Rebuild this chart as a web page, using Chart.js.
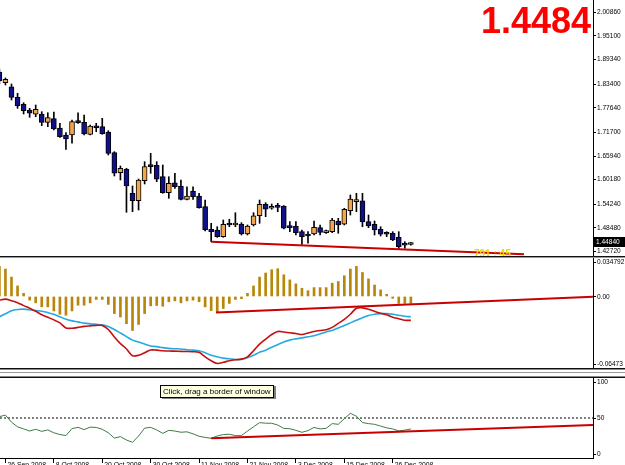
<!DOCTYPE html>
<html><head><meta charset="utf-8">
<script src="https://cdn.jsdelivr.net/npm/chart.js@4.4.1/dist/chart.umd.min.js"></script>
<style>
html,body{margin:0;padding:0;background:#fff;overflow:hidden;}
#wrap{position:relative;width:625px;height:465px;overflow:hidden;background:#fff;}
.pane{position:absolute;left:0;width:625px;}
.sep{position:absolute;left:0;width:625px;height:1px;}
canvas{display:block;}
</style></head><body>
<div id="wrap">
  <div class="pane" style="top:0;height:256px"><canvas id="cMain" width="625" height="256"></canvas></div>
  <div class="sep" style="top:256px;background:#111"></div>
  <div class="sep" style="top:257px;background:#999"></div>
  <div class="pane" style="top:258px;height:110px"><canvas id="cMacd" width="625" height="110"></canvas></div>
  <div class="sep" style="top:368px;background:#111"></div>
  <div class="sep" style="top:369px;background:#888"></div>
  <div class="sep" style="top:372px;background:#999"></div>
  <div class="sep" style="top:376px;background:#888"></div>
  <div class="sep" style="top:377px;background:#111"></div>
  <div class="pane" style="top:378px;height:87px"><canvas id="cRsi" width="625" height="87"></canvas></div>
</div>
<script>
// ---------------- DATA ----------------
const tickBars = [1, 9, 17, 25, 33, 41, 49, 57, 65];
const tickText = ['26 Sep 2008','8 Oct 2008','20 Oct 2008','30 Oct 2008','11 Nov 2008','21 Nov 2008','3 Dec 2008','15 Dec 2008','26 Dec 2008'];

const opens  = [1.8622,1.8363,1.8265,1.8008,1.7838,1.7700,1.7596,1.7603,1.7401,1.7489,
                1.7263,1.7093,1.7093,1.7416,1.7401,1.7110,1.7312,1.7295,1.7159,1.6664,
                1.6178,1.6261,1.5678,1.5498,1.5984,1.6358,1.6358,1.6081,1.5693,1.5935,
                1.5855,1.5532,1.5734,1.5613,1.5353,1.4804,1.4787,1.4625,1.4933,1.4909,
                1.4933,1.4690,1.4909,1.5134,1.5411,1.5314,1.5363,1.5370,1.4867,1.4884,
                1.4746,1.4666,1.4690,1.4843,1.4722,1.4746,1.5006,1.4926,1.5256,1.5474,
                1.5498,1.4989,1.4926,1.4804,1.4707,1.4707,1.4610,1.4423,1.4435];
const highs  = [1.8695,1.8477,1.8331,1.8105,1.7877,1.7741,1.7821,1.7659,1.7634,1.7651,
                1.7377,1.7149,1.7457,1.7634,1.7579,1.7336,1.7377,1.7498,1.7198,1.6688,
                1.6341,1.6285,1.5855,1.6025,1.6445,1.6649,1.6445,1.6365,1.6081,1.6164,
                1.6001,1.5838,1.5838,1.5678,1.5515,1.4950,1.4867,1.5030,1.5047,1.5207,
                1.4965,1.4909,1.5207,1.5515,1.5450,1.5418,1.5435,1.5380,1.4989,1.4989,
                1.4787,1.4746,1.5006,1.4909,1.4787,1.5071,1.5071,1.5314,1.5637,1.5678,
                1.5678,1.5151,1.5006,1.4867,1.4746,1.4746,1.4746,1.4503,1.4490];
const lows   = [1.8331,1.8307,1.7943,1.7741,1.7603,1.7523,1.7537,1.7319,1.7295,1.7215,
                1.7037,1.6746,1.6892,1.7377,1.7093,1.7093,1.7173,1.7110,1.6608,1.6098,
                1.6001,1.5217,1.5231,1.5273,1.5904,1.6164,1.5960,1.5678,1.5557,1.5799,
                1.5515,1.5515,1.5532,1.5314,1.4763,1.4503,1.4610,1.4610,1.4867,1.4867,
                1.4666,1.4666,1.4884,1.4950,1.5110,1.5290,1.5231,1.4812,1.4746,1.4666,
                1.4440,1.4465,1.4666,1.4666,1.4707,1.4722,1.4707,1.4909,1.5151,1.5231,
                1.4867,1.4843,1.4666,1.4642,1.4625,1.4528,1.4319,1.4343,1.4420];
const closes = [1.8404,1.8445,1.8008,1.7804,1.7683,1.7620,1.7717,1.7401,1.7513,1.7239,
                1.7052,1.6996,1.7416,1.7392,1.7117,1.7312,1.7270,1.7125,1.6649,1.6164,
                1.6285,1.5855,1.5498,1.6001,1.6324,1.6324,1.6018,1.5693,1.5921,1.5838,
                1.5532,1.5613,1.5596,1.5329,1.4787,1.4746,1.4625,1.4926,1.4909,1.4921,
                1.4690,1.4884,1.5134,1.5411,1.5290,1.5353,1.5338,1.4829,1.4843,1.4722,
                1.4625,1.4642,1.4853,1.4731,1.4770,1.5030,1.4909,1.5290,1.5540,1.5515,
                1.4989,1.4884,1.4787,1.4683,1.4683,1.4545,1.4382,1.4420,1.4484];

const macdHist = [0.0272,0.0248,0.0175,0.0095,0.0028,-0.0033,-0.0058,-0.0094,-0.0094,-0.0131,
                  -0.0161,-0.0170,-0.0131,-0.0079,-0.0079,-0.0058,-0.0027,-0.0027,-0.0072,-0.0155,
                  -0.0186,-0.0247,-0.0308,-0.0253,-0.0155,-0.0085,-0.0082,-0.0088,-0.0048,-0.0040,
                  -0.0058,-0.0040,-0.0033,-0.0048,-0.0094,-0.0128,-0.0140,-0.0109,-0.0063,-0.0027,
                  -0.0020,0.0028,0.0095,0.0175,0.0212,0.0242,0.0251,0.0196,0.0150,0.0114,
                  0.0074,0.0052,0.0080,0.0080,0.0080,0.0120,0.0135,0.0187,0.0248,0.0272,
                  0.0217,0.0159,0.0104,0.0059,0.0019,-0.0017,-0.0063,-0.0063,-0.0063];
const macdRed  = [-0.0033,-0.0024,-0.0038,-0.0056,-0.0083,-0.0106,-0.0134,-0.0166,-0.0189,-0.0212,
                  -0.0239,-0.0285,-0.0287,-0.0280,-0.0271,-0.0266,-0.0262,-0.0262,-0.0299,-0.0367,
                  -0.0427,-0.0475,-0.0537,-0.0532,-0.0509,-0.0484,-0.0486,-0.0491,-0.0494,-0.0495,
                  -0.0497,-0.0498,-0.0500,-0.0505,-0.0546,-0.0582,-0.0607,-0.0596,-0.0582,-0.0573,
                  -0.0567,-0.0546,-0.0491,-0.0431,-0.0386,-0.0344,-0.0317,-0.0321,-0.0329,-0.0335,
                  -0.0344,-0.0331,-0.0317,-0.0308,-0.0301,-0.0280,-0.0244,-0.0207,-0.0161,-0.0106,
                  -0.0103,-0.0115,-0.0134,-0.0152,-0.0166,-0.0189,-0.0202,-0.0216,-0.0216];
const macdBlue = [-0.0184,-0.0157,-0.0129,-0.0118,-0.0115,-0.0120,-0.0127,-0.0134,-0.0146,-0.0161,
                  -0.0184,-0.0207,-0.0221,-0.0230,-0.0241,-0.0248,-0.0253,-0.0257,-0.0271,-0.0299,
                  -0.0331,-0.0363,-0.0395,-0.0413,-0.0431,-0.0448,-0.0454,-0.0463,-0.0470,-0.0473,
                  -0.0475,-0.0482,-0.0486,-0.0491,-0.0509,-0.0532,-0.0546,-0.0558,-0.0564,-0.0570,
                  -0.0569,-0.0555,-0.0532,-0.0505,-0.0486,-0.0459,-0.0436,-0.0413,-0.0395,-0.0384,
                  -0.0375,-0.0365,-0.0356,-0.0340,-0.0321,-0.0308,-0.0285,-0.0262,-0.0239,-0.0216,
                  -0.0193,-0.0173,-0.0161,-0.0155,-0.0155,-0.0161,-0.0170,-0.0179,-0.0184];
const rsi = [51.7,53.6,44.8,39.0,36.4,33.7,35.9,33.3,35.1,31.5,
             29.3,28.0,36.8,38.3,35.5,38.6,38.2,35.9,31.5,24.9,
             26.7,22.5,19.6,27.5,37.3,38.3,35.1,30.8,34.6,33.7,
             32.2,32.7,30.2,27.1,25.8,24.6,27.5,29.3,29.7,28.0,
             28.0,33.7,39.0,44.2,43.5,43.4,41.2,37.0,36.6,34.6,
             32.1,34.2,38.2,36.4,37.1,43.0,42.1,49.2,55.8,52.3,
             44.3,43.0,42.1,39.9,37.7,36.3,33.9,34.8,36.3];

const priceTicks = [2.00860,1.95100,1.89340,1.83400,1.77640,1.71700,1.65940,1.60180,1.54240,1.48480,1.42720];
const macdTicks = [0.034792, 0, -0.06473];
const macdTickText = ['0.034792','0.00','-0.06473'];
const rsiTicks = [100, 50, 0];
const rsiLevel = [50];

const priceTrendX = [35, 86.7],  priceTrendY = [1.4503, 1.4198];
const macdTrendX  = [35.8, 98.1], macdTrendY  = [-0.0146, -0.0003];
const rsiTrendX   = [35, 98.1],   rsiTrendY   = [24.6, 41.3];
const timerText = '791 : 45';

// ---------------- SETUP ----------------
const X_MIN = 0.1, X_MAX = 98.1;
const PRICE_MIN = 1.4156, PRICE_MAX = 2.0370;
const AX_FONT = "'Liberation Sans',Arial,sans-serif";
const SQ = 0.82; // horizontal condensing of axis text
const BULL = '#f2a54a', BEAR = '#10108a', RED = '#c80000';
Chart.defaults.animation = false;
Chart.defaults.font.family = AX_FONT;
Chart.defaults.font.size = 8;
Chart.defaults.color = '#000';

const idx = closes.map((_, i) => i);
const pts = (xs, ys) => xs.map((x, i) => ({x, y: ys[i]}));

function condText(ctx, txt, x, y, sx){
  ctx.save(); ctx.translate(x, y); ctx.scale(sx, 1); ctx.fillText(txt, 0, 0); ctx.restore();
}
function fixY(s){ s.width = 32; s.paddingTop = 0; s.paddingBottom = 0; }
const baseX = {type:'linear', min:X_MIN, max:X_MAX, display:false, offset:false};
const basePlugins = {legend:{display:false}, tooltip:{enabled:false}};
const yHidden = {ticks:{display:false}, grid:{drawOnChartArea:false, drawTicks:false},
                 border:{display:true, color:'#000', width:1}, afterFit:fixY};

// right-hand axis labels, MT4 style (edge labels kept inside the pane)
const sideAxis = {
  id:'sideAxis',
  afterDraw(chart, args, opts){
    const s = chart.scales.y, ctx = chart.ctx, a = chart.chartArea;
    ctx.save();
    ctx.font = '8px ' + AX_FONT; ctx.fillStyle = '#000'; ctx.strokeStyle = '#000'; ctx.lineWidth = 1;
    ctx.textAlign = 'left'; ctx.textBaseline = 'middle';
    s.ticks.forEach((t, i) => {
      let y = s.getPixelForValue(t.value);
      y = Math.min(Math.max(y, a.top + 4), a.bottom - 4);
      const yy = Math.round(y) + 0.5;
      ctx.beginPath(); ctx.moveTo(a.right, yy); ctx.lineTo(a.right + 3, yy); ctx.stroke();
      condText(ctx, opts.labels(t.value, i), a.right + 4, y, SQ);
    });
    ctx.restore();
  }
};

// ---------------- MAIN ----------------
const mainDeco = {
  id:'mainDeco',
  afterDraw(chart){
    const {ctx, chartArea:a, scales:{y}} = chart;
    const last = closes[closes.length - 1];
    const yy = Math.round(y.getPixelForValue(last));
    ctx.save();
    ctx.fillStyle = '#f2d600'; ctx.font = "bold 10px 'Liberation Sans',Arial,sans-serif";
    ctx.textAlign = 'left'; ctx.textBaseline = 'middle';
    ctx.fillText(timerText, 474, a.bottom - 2);
    ctx.fillStyle = '#000'; ctx.fillRect(a.right + 1, yy - 5, 32, 10);
    ctx.fillStyle = '#fff'; ctx.font = '8px ' + AX_FONT;
    condText(ctx, last.toFixed(5), a.right + 3, yy, SQ);
    ctx.fillStyle = '#ff0000'; ctx.font = "bold 36px 'Liberation Sans',Arial,sans-serif";
    ctx.textAlign = 'right'; ctx.textBaseline = 'alphabetic';
    ctx.fillText(last.toFixed(4), 591, 33);
    ctx.restore();
  }
};

new Chart(document.getElementById('cMain'), {
  type:'bar',
  data:{datasets:[
    {type:'line', data:pts(priceTrendX, priceTrendY), borderColor:RED, borderWidth:2, pointRadius:0, order:0},
    {data:idx.map(i => ({x:i, y:[opens[i], closes[i]]})),
     backgroundColor:idx.map(i => closes[i] >= opens[i] ? BULL : BEAR),
     borderColor:'#000', borderWidth:1, borderSkipped:false, barThickness:5, minBarLength:2, grouped:false, order:1},
    {data:idx.map(i => ({x:i, y:[lows[i], highs[i]]})), backgroundColor:'#000', barThickness:1, grouped:false, order:2}
  ]},
  options:{
    responsive:false, events:[], layout:{padding:0},
    plugins:Object.assign({sideAxis:{labels:v => v.toFixed(5)}}, basePlugins),
    scales:{
      x:baseX,
      y:Object.assign({type:'linear', position:'right', min:PRICE_MIN, max:PRICE_MAX,
         afterBuildTicks:s => { s.ticks = priceTicks.map(v => ({value:v})); }}, yHidden)
    }
  },
  plugins:[sideAxis, mainDeco]
});

// ---------------- MACD ----------------
new Chart(document.getElementById('cMacd'), {
  type:'bar',
  data:{datasets:[
    {type:'line', data:pts(macdTrendX, macdTrendY), borderColor:RED, borderWidth:2, pointRadius:0, order:0},
    {type:'line', data:pts(idx, macdRed), borderColor:'#c41010', borderWidth:1.6, pointRadius:0, tension:0.3, order:1},
    {type:'line', data:pts(idx, macdBlue), borderColor:'#25a9e0', borderWidth:1.6, pointRadius:0, tension:0.3, order:2},
    {data:pts(idx, macdHist), backgroundColor:'#b8860b', barThickness:2, grouped:false, order:3}
  ]},
  options:{
    responsive:false, events:[], layout:{padding:0},
    plugins:Object.assign({sideAxis:{labels:(v, i) => macdTickText[i]}}, basePlugins),
    scales:{
      x:baseX,
      y:Object.assign({type:'linear', position:'right', min:macdTicks[2], max:macdTicks[0],
         afterBuildTicks:s => { s.ticks = macdTicks.map(v => ({value:v})); }}, yHidden)
    }
  },
  plugins:[sideAxis]
});

// ---------------- RSI ----------------
const rsiDeco = {
  id:'rsiDeco',
  afterDraw(chart){
    const ctx = chart.ctx, a = chart.chartArea, sx = chart.scales.x;
    ctx.save();
    // date labels under the axis
    ctx.fillStyle = '#000'; ctx.font = '8px ' + AX_FONT; ctx.textAlign = 'left'; ctx.textBaseline = 'top';
    sx.ticks.forEach(t => {
      condText(ctx, tickText[tickBars.indexOf(t.value)], sx.getPixelForValue(t.value) + 2, a.bottom + 3, 0.85);
    });
    // tooltip box
    ctx.fillStyle = '#808080'; ctx.fillRect(162, 8, 114, 13);
    ctx.fillStyle = '#ffffe1'; ctx.fillRect(160, 7, 114, 13);
    ctx.strokeStyle = '#000'; ctx.lineWidth = 1; ctx.strokeRect(160.5, 7.5, 113, 12);
    ctx.fillStyle = '#000'; ctx.font = "8px 'Liberation Sans',Arial,sans-serif";
    ctx.textAlign = 'left'; ctx.textBaseline = 'middle';
    ctx.fillText('Click, drag a border of window', 163, 13.5);
    ctx.restore();
  }
};
new Chart(document.getElementById('cRsi'), {
  type:'line',
  data:{datasets:[
    {data:pts(rsiTrendX, rsiTrendY), borderColor:RED, borderWidth:2, pointRadius:0, order:0},
    {data:pts(idx, rsi), borderColor:'#3f7a45', borderWidth:1, pointRadius:0, tension:0, order:1},
    {data:pts([X_MIN, X_MAX], [rsiLevel[0], rsiLevel[0]]), borderColor:'#000', borderWidth:1, borderDash:[2,2], pointRadius:0, order:2}
  ]},
  options:{
    responsive:false, events:[], layout:{padding:0},
    plugins:Object.assign({sideAxis:{labels:v => String(v)}}, basePlugins),
    scales:{
      x:{type:'linear', min:X_MIN, max:X_MAX, offset:false, position:'bottom',
         afterBuildTicks:s => { s.ticks = tickBars.map(v => ({value:v})); },
         afterFit:s => { s.height = 7; s.paddingLeft = 0; s.paddingRight = 0; },
         ticks:{display:false},
         grid:{drawOnChartArea:false, drawTicks:true, tickLength:5, tickColor:'#000'},
         border:{display:true, color:'#000', width:1}},
      y:Object.assign({type:'linear', position:'right', min:0, max:100,
         afterBuildTicks:s => { s.ticks = rsiTicks.map(v => ({value:v})); }}, yHidden)
    }
  },
  plugins:[sideAxis, rsiDeco]
});
</script>
</body></html>
